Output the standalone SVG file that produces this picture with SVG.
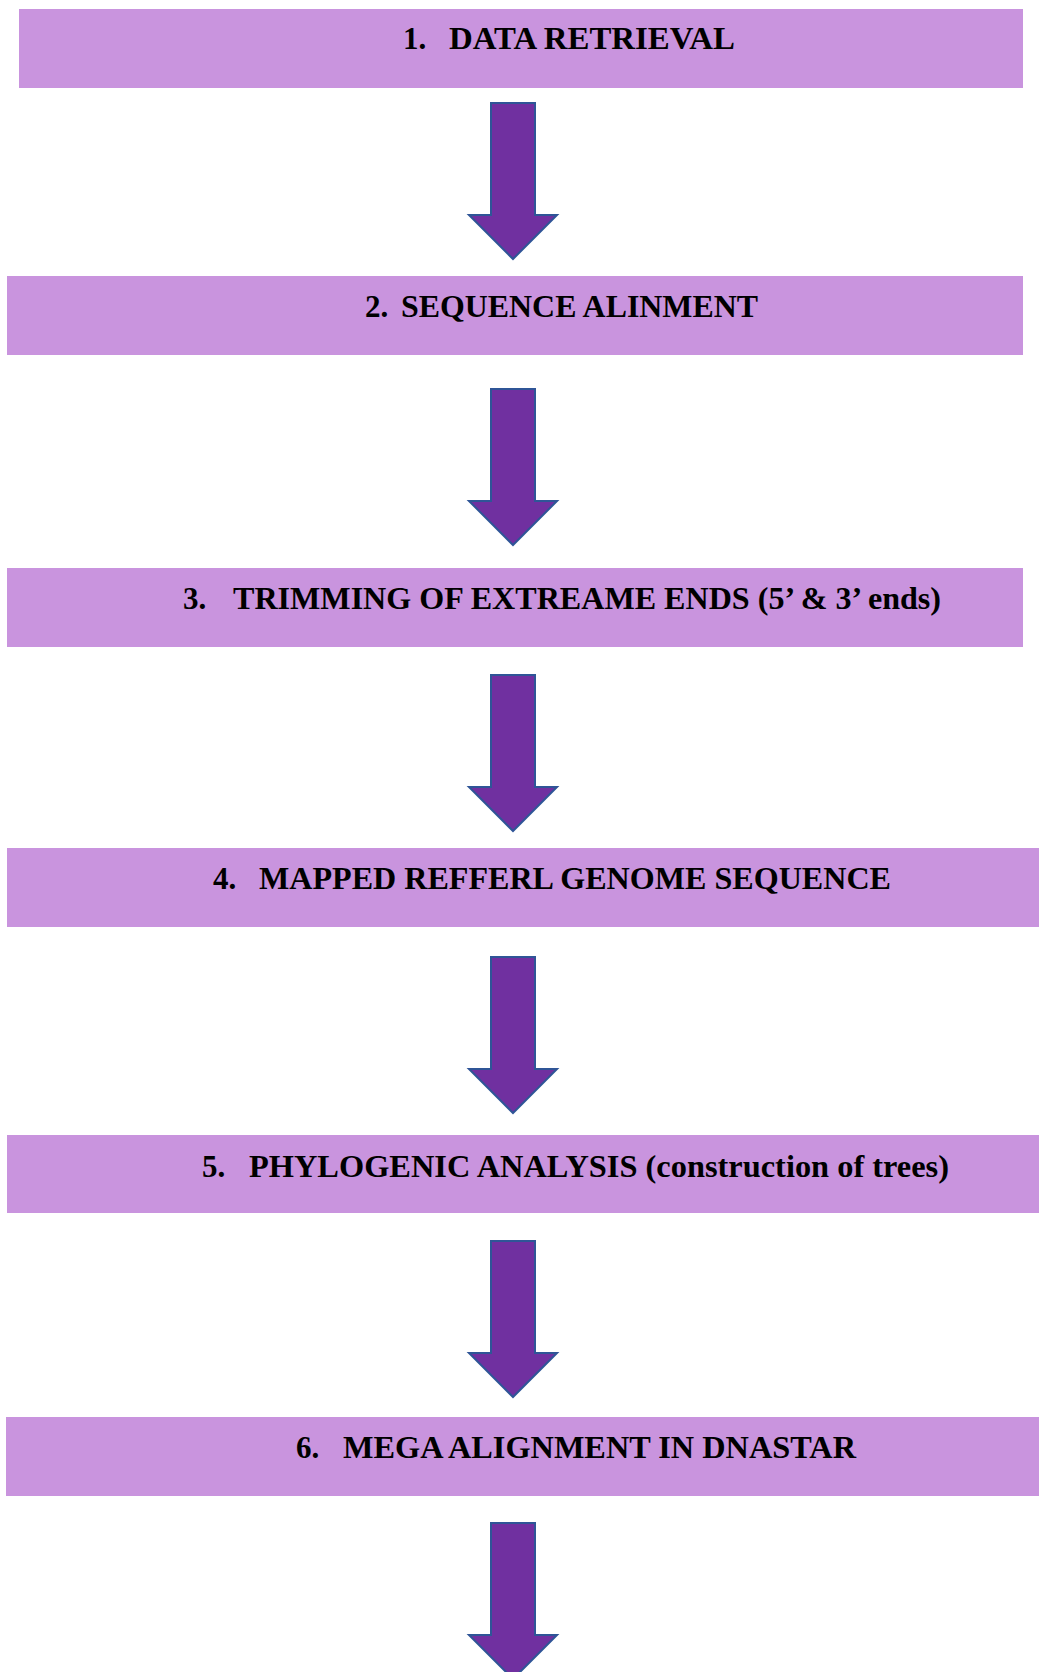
<svg xmlns="http://www.w3.org/2000/svg" width="1039" height="1672" viewBox="0 0 1039 1672">
<style>
.box{fill:#C994DE;}
.t{font-family:"Liberation Serif","Times New Roman",serif;font-weight:bold;font-size:31px;fill:#000;}
.arr{fill:#7030A0;stroke:#2F5597;stroke-width:2;stroke-linejoin:miter;}
</style>
<defs>
<path id="arrow" d="M-22,0 H22 V112 H44 L0,156 L-44,112 H-22 Z"/>
</defs>
<rect width="1039" height="1672" fill="#fff"/>
<g id="n1"><rect class="box" x="19" y="9" width="1004" height="79"/><text class="t" x="403" y="49">1.</text><text class="t" x="449" y="49" textLength="286" lengthAdjust="spacingAndGlyphs">DATA RETRIEVAL</text></g>
<g id="n2"><rect class="box" x="7" y="276" width="1016" height="79"/><text class="t" x="365" y="317">2.</text><text class="t" x="401" y="317" textLength="357" lengthAdjust="spacingAndGlyphs">SEQUENCE ALINMENT</text></g>
<g id="n3"><rect class="box" x="7" y="568" width="1016" height="79"/><text class="t" x="183" y="608.5">3.</text><text class="t" x="233" y="608.5" textLength="708" lengthAdjust="spacingAndGlyphs">TRIMMING OF EXTREAME ENDS (5’ &amp; 3’ ends)</text></g>
<g id="n4"><rect class="box" x="7" y="848" width="1032" height="79"/><text class="t" x="213" y="889">4.</text><text class="t" x="259" y="889" textLength="632" lengthAdjust="spacingAndGlyphs">MAPPED REFFERL GENOME SEQUENCE</text></g>
<g id="n5"><rect class="box" x="7" y="1135" width="1032" height="78"/><text class="t" x="202" y="1177">5.</text><text class="t" x="249" y="1177" textLength="700" lengthAdjust="spacingAndGlyphs">PHYLOGENIC ANALYSIS (construction of trees)</text></g>
<g id="n6"><rect class="box" x="6" y="1417" width="1033" height="79"/><text class="t" x="296" y="1458">6.</text><text class="t" x="343" y="1458" textLength="513" lengthAdjust="spacingAndGlyphs">MEGA ALIGNMENT IN DNASTAR</text></g>
<g id="connectors">
<use href="#arrow" class="arr" x="513" y="103"/>
<use href="#arrow" class="arr" x="513" y="389"/>
<use href="#arrow" class="arr" x="513" y="675"/>
<use href="#arrow" class="arr" x="513" y="957"/>
<use href="#arrow" class="arr" x="513" y="1241"/>
<use href="#arrow" class="arr" x="513" y="1523"/>
</g>
</svg>
